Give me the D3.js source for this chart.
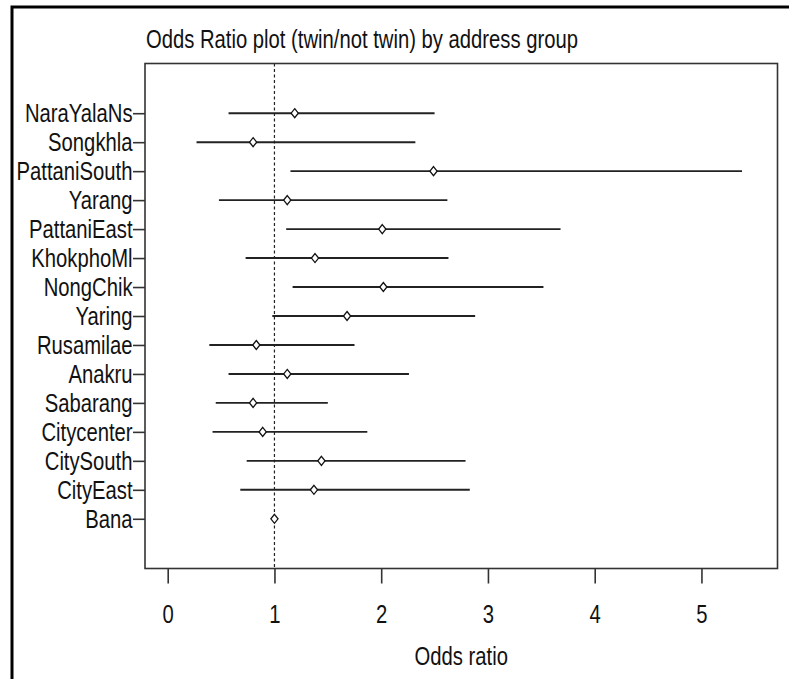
<!DOCTYPE html>
<html>
<head>
<meta charset="utf-8">
<script src="https://cdn.jsdelivr.net/npm/d3@7"></script>
<style>
  html, body { margin: 0; padding: 0; background: #ffffff; }
  svg { display: block; }
  text { font-family: "Liberation Sans", Arial, sans-serif; fill: #111; }
</style>
</head>
<body>
<svg id="chart" width="789" height="679"></svg>
<script>
// ---- data (top to bottom) ----
const groups = ["NaraYalaNs", "Songkhla", "PattaniSouth", "Yarang", "PattaniEast", "KhokphoMl",
  "NongChik", "Yaring", "Rusamilae", "Anakru", "Sabarang", "Citycenter", "CitySouth", "CityEast", "Bana"];
const oddsRatio = [1.19, 0.80, 2.49, 1.12, 2.01, 1.38, 2.02, 1.68, 0.83, 1.12, 0.80, 0.89, 1.44, 1.37, 1.00];
const lowerCI   = [0.57, 0.27, 1.15, 0.48, 1.11, 0.73, 1.17, 0.98, 0.39, 0.57, 0.45, 0.42, 0.74, 0.68, 1.00];
const upperCI   = [2.50, 2.32, 5.38, 2.62, 3.68, 2.63, 3.52, 2.88, 1.75, 2.26, 1.50, 1.87, 2.79, 2.83, 1.00];
const xTicks = [0, 1, 2, 3, 4, 5];
const titleText = "Odds Ratio plot (twin/not twin) by address group";
const xLabel = "Odds ratio";

const rows = groups.map((g, i) => ({ g, or: oddsRatio[i], lo: lowerCI[i], hi: upperCI[i] }));

const svg = d3.select("#chart");
const FS = 25, SX = 0.81;

// outer frame
svg.append("rect").attr("x", 12).attr("y", 7).attr("width", 820).attr("height", 720)
  .attr("fill", "none").attr("stroke", "#000").attr("stroke-width", 3);

const box = { left: 145, right: 777.5, top: 63.5, bottom: 568.5 };

const x = d3.scaleLinear().domain([0, 5]).range([167.7, 167.7 + 5 * 106.75]);
const y = d3.scalePoint().domain(groups).range([box.top, box.bottom]).padding(1.716);

// reference line at 1
svg.append("line")
  .attr("x1", x(1)).attr("x2", x(1)).attr("y1", box.top).attr("y2", box.bottom)
  .attr("stroke", "#222").attr("stroke-width", 1.2).attr("stroke-dasharray", "3,2.5");

// CI lines
svg.append("g").selectAll("line").data(rows.filter(d => d.hi > d.lo)).join("line")
  .attr("x1", d => x(d.lo)).attr("x2", d => x(d.hi))
  .attr("y1", d => y(d.g)).attr("y2", d => y(d.g))
  .attr("stroke", "#222").attr("stroke-width", 1.9);

// diamonds
const diamond = "M0,-4.5L3.6,0L0,4.5L-3.6,0Z";
svg.append("g").selectAll("path").data(rows).join("path")
  .attr("d", diamond)
  .attr("transform", d => `translate(${x(d.or)},${y(d.g)})`)
  .attr("fill", "#fff").attr("stroke", "#111").attr("stroke-width", 1.3);

// plot box
svg.append("rect").attr("x", box.left).attr("y", box.top)
  .attr("width", box.right - box.left).attr("height", box.bottom - box.top)
  .attr("fill", "none").attr("stroke", "#333").attr("stroke-width", 1.6);

// y axis
const yAxis = svg.append("g").attr("transform", `translate(${box.left},0)`)
  .call(d3.axisLeft(y).tickSize(12).tickPadding(0));
yAxis.select(".domain").remove();
yAxis.selectAll(".tick line").attr("stroke", "#333").attr("stroke-width", 1.6);
yAxis.selectAll(".tick text")
  .attr("font-size", FS).attr("x", -12.5 / SX).attr("dy", "0.35em")
  .attr("transform", `scale(${SX},1)`);

// x axis
const xAxis = svg.append("g").attr("transform", `translate(0,${box.bottom})`)
  .call(d3.axisBottom(x).tickValues(xTicks).tickFormat(d3.format("d")).tickSize(15).tickPadding(22));
xAxis.select(".domain").remove();
xAxis.selectAll(".tick line").attr("stroke", "#333").attr("stroke-width", 1.6);
xAxis.selectAll(".tick text").attr("font-size", FS).attr("transform", `scale(${SX},1)`);
svg.selectAll(".tick text").attr("fill", "#111").style("font-family", '"Liberation Sans", Arial, sans-serif');

// title
svg.append("text").attr("transform", `translate(146,48) scale(${SX},1)`)
  .attr("font-size", FS).text(titleText);

// x label
svg.append("text").attr("transform", `translate(${(box.left + box.right) / 2},665) scale(${SX},1)`)
  .attr("text-anchor", "middle").attr("font-size", FS).text(xLabel);
</script>
</body>
</html>
